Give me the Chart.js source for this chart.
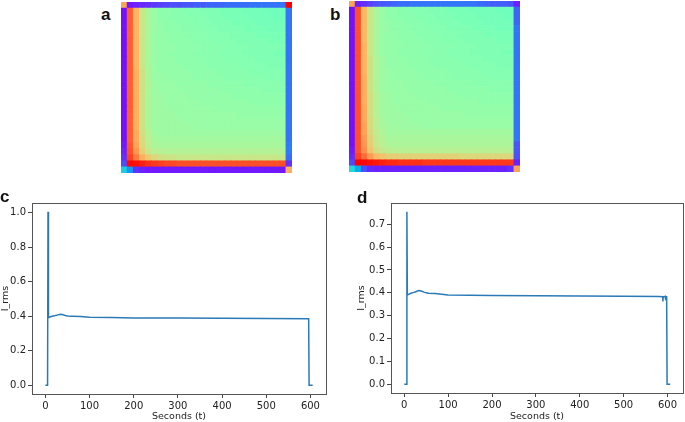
<!DOCTYPE html>
<html>
<head>
<meta charset="utf-8">
<script src="https://cdn.jsdelivr.net/npm/chart.js@4.4.0/dist/chart.umd.min.js"></script>
<style>
body { margin: 0; background: #fff; }
#wrap { position: relative; width: 685px; height: 422px; overflow: hidden; }
canvas { position: absolute; }
.tag { position: absolute; font: bold 17px "Liberation Sans", Arial, sans-serif; line-height: 17px; color: #111; }
</style>
</head>
<body>
<div id="wrap">
  <canvas id="heatA" width="171" height="171" style="left:121px;top:2px"></canvas>
  <canvas id="heatB" width="171" height="171" style="left:349px;top:1px"></canvas>
  <canvas id="lineC" width="340" height="232" style="left:0px;top:190px"></canvas>
  <canvas id="lineD" width="340" height="232" style="left:345px;top:190px"></canvas>
  <div class="tag" style="left:101px;top:6px">a</div>
  <div class="tag" style="left:330px;top:6px">b</div>
  <div class="tag" style="left:0px;top:188px">c</div>
  <div class="tag" style="left:357px;top:189px">d</div>
</div>
<script>
// heatmap cells, 28 x 28, values in percent of the colour scale (row 0 = top)
var heatA = [
  [78, 3, 4, 5, 6, 7, 8, 9,10,10,11,11,12,12,13,13,13,14,14,14,14,15,15,15,15,15,15,100],
  [2,88,75,64,58,55,53,53,52,52,51,51,51,50,50,50,49,49,49,49,48,48,48,48,47,47,47,15],
  [2,88,75,64,58,55,53,53,52,52,52,51,51,51,50,50,50,49,49,49,49,48,48,48,48,47,47,15],
  [2,88,75,64,58,55,54,53,53,52,52,52,51,51,51,50,50,50,49,49,49,49,48,48,48,48,48,15],
  [2,88,75,64,58,55,54,53,53,53,52,52,52,51,51,51,50,50,50,50,49,49,49,49,48,48,48,15],
  [2,88,75,64,58,55,54,54,53,53,53,52,52,52,51,51,51,51,50,50,50,50,49,49,49,49,49,15],
  [2,88,75,64,58,55,54,54,53,53,53,53,52,52,52,51,51,51,51,50,50,50,50,50,49,49,49,15],
  [2,88,75,64,58,55,54,54,54,53,53,53,53,52,52,52,52,51,51,51,51,50,50,50,50,50,50,15],
  [2,88,75,64,58,55,54,54,53,53,53,53,52,52,52,52,51,51,51,51,50,50,50,50,50,49,49,15],
  [2,88,75,64,58,55,54,54,54,53,53,53,53,52,52,52,52,51,51,51,51,51,50,50,50,50,50,15],
  [2,88,75,64,58,55,54,54,54,54,53,53,53,53,52,52,52,52,52,51,51,51,51,51,50,50,50,15],
  [2,88,76,65,59,55,55,54,54,54,54,53,53,53,53,53,52,52,52,52,52,51,51,51,51,51,51,15],
  [2,88,76,65,59,55,55,55,54,54,54,54,53,53,53,53,53,52,52,52,52,52,52,51,51,51,51,15],
  [2,88,76,65,59,56,55,55,55,54,54,54,54,54,53,53,53,53,53,53,52,52,52,52,52,52,52,15],
  [2,88,76,65,59,56,55,55,55,55,54,54,54,54,54,54,53,53,53,53,53,53,53,52,52,52,52,15],
  [2,88,76,65,59,56,56,55,55,55,55,54,54,54,54,54,54,54,53,53,53,53,53,53,53,53,53,15],
  [2,88,76,65,59,56,56,55,55,55,55,55,55,54,54,54,54,54,54,54,54,53,53,53,53,53,53,15],
  [2,88,76,65,59,56,56,56,55,55,55,55,55,55,55,54,54,54,54,54,54,54,54,54,54,54,54,15],
  [2,88,76,65,59,56,56,56,56,55,55,55,55,55,55,55,55,55,55,54,54,54,54,54,54,54,54,15],
  [2,88,76,65,59,56,56,56,56,56,55,55,55,55,55,55,55,55,55,55,55,55,55,55,55,55,55,15],
  [2,88,76,65,59,56,56,56,56,56,56,56,55,55,55,55,55,55,55,55,55,55,55,55,55,55,55,15],
  [2,88,77,66,60,57,56,56,56,56,56,56,56,56,56,56,56,56,56,56,56,56,56,56,56,56,56,15],
  [2,88,77,67,61,58,57,57,57,57,57,57,57,57,57,57,57,57,57,57,57,57,57,57,57,57,57,15],
  [3,89,78,68,62,59,58,58,58,58,58,58,58,58,58,58,58,58,58,58,58,58,58,58,58,58,58,16],
  [4,90,80,70,64,61,61,60,60,60,60,60,60,60,60,60,60,60,60,60,60,60,60,60,60,60,60,16],
  [6,92,84,76,71,68,66,65,65,64,64,64,64,64,64,64,64,64,64,64,64,64,64,64,64,64,64,14],
  [10,99,98,96,94,93,92,91,91,90,90,90,90,90,90,90,90,90,90,90,90,90,90,90,90,90,90,6],
  [30,20,6,4,3,3,3,3,3,3,3,3,3,3,3,3,3,3,3,3,3,3,3,3,3,3,3,76]
];
var heatB = [
  [78, 4, 6, 8,10,11,12,13,14,14,15,15,15,15,15,15,15,15,15,15,15,14,13,12,12,12,11,4],
  [2,90,74,64,58,55,53,53,52,52,51,51,51,50,50,50,49,49,49,49,48,48,48,48,47,47,47,13],
  [2,90,74,64,58,55,53,53,52,52,52,51,51,51,50,50,50,49,49,49,49,48,48,48,48,47,47,13],
  [2,90,74,64,58,55,54,53,53,52,52,52,51,51,51,50,50,50,49,49,49,49,48,48,48,48,48,13],
  [2,90,74,64,58,55,54,53,53,53,52,52,52,51,51,51,50,50,50,50,49,49,49,49,48,48,48,15],
  [2,90,74,64,58,55,54,54,53,53,53,52,52,52,51,51,51,51,50,50,50,50,49,49,49,49,49,15],
  [2,90,74,64,58,55,54,54,53,53,53,53,52,52,52,51,51,51,51,50,50,50,50,50,49,49,49,15],
  [2,90,75,64,58,55,54,54,54,53,53,53,53,52,52,52,52,51,51,51,51,50,50,50,50,50,50,15],
  [2,90,75,64,58,55,54,54,53,53,53,53,52,52,52,52,51,51,51,51,50,50,50,50,50,49,49,15],
  [2,90,75,65,59,56,54,54,54,53,53,53,53,52,52,52,52,51,51,51,51,51,50,50,50,50,50,15],
  [2,90,75,65,59,56,54,54,54,54,53,53,53,53,52,52,52,52,52,51,51,51,51,51,50,50,50,15],
  [2,90,75,65,59,56,55,54,54,54,54,53,53,53,53,53,52,52,52,52,52,51,51,51,51,51,51,15],
  [2,90,76,65,59,56,55,55,54,54,54,54,53,53,53,53,53,52,52,52,52,52,52,51,51,51,51,15],
  [2,90,76,65,59,56,55,55,55,54,54,54,54,54,53,53,53,53,53,53,52,52,52,52,52,52,52,15],
  [2,90,76,65,59,56,55,55,55,55,54,54,54,54,54,54,53,53,53,53,53,53,53,52,52,52,52,15],
  [2,90,76,66,60,57,56,55,55,55,55,54,54,54,54,54,54,54,53,53,53,53,53,53,53,53,53,15],
  [2,90,76,66,60,57,56,55,55,55,55,55,55,54,54,54,54,54,54,54,54,53,53,53,53,53,53,15],
  [2,90,77,66,60,57,56,56,55,55,55,55,55,55,55,54,54,54,54,54,54,54,54,54,54,54,54,15],
  [2,90,77,66,60,57,56,56,56,55,55,55,55,55,55,55,55,55,55,54,54,54,54,54,54,54,54,15],
  [2,90,77,67,61,58,56,56,56,56,55,55,55,55,55,55,55,55,55,55,55,55,55,55,55,55,55,15],
  [2,90,78,67,61,58,57,56,56,56,56,56,55,55,55,55,55,55,55,55,55,55,55,55,55,55,55,15],
  [2,90,78,68,62,59,57,57,57,57,57,57,57,57,57,57,57,57,57,57,57,57,57,57,57,57,57,15],
  [2,90,79,69,63,60,58,58,58,58,58,58,58,58,58,58,58,58,58,58,58,58,58,58,58,58,58,15],
  [2,90,80,70,64,61,59,59,59,59,59,59,59,59,59,59,59,59,59,59,59,59,59,59,59,59,59,11],
  [3,90,81,72,66,63,62,61,61,61,61,61,61,61,61,61,61,61,61,61,61,61,61,61,61,61,61,11],
  [5,92,86,79,74,72,70,70,69,69,69,69,69,69,69,69,69,69,68,68,68,68,68,68,68,68,68,10],
  [9,100,99,98,97,96,95,95,94,94,94,94,93,93,93,93,93,93,93,93,93,93,93,93,93,93,93,4],
  [32,24,10,5,4,4,4,4,4,4,4,4,4,4,4,4,4,4,4,4,4,4,4,4,4,4,6,78]
];
var heatCols = ['0','1','2','3','4','5','6','7','8','9','10','11','12','13','14','15','16','17','18','19','20','21','22','23','24','25','26','27'];

// panel c: I_rms against seconds
var secondsC = [0, 5, 6, 7, 10, 15, 20, 25, 30, 35, 40, 45, 50, 60, 80, 100, 150, 200, 300, 400, 500, 596, 597, 605];
var irmsC = [0, 0, 1.005, 0.392, 0.395, 0.400, 0.402, 0.405, 0.409, 0.411, 0.408, 0.404, 0.401, 0.400, 0.398, 0.394, 0.392, 0.390, 0.389, 0.388, 0.387, 0.385, 0, 0];
// panel d
var secondsD = [0, 5, 6, 7, 10, 15, 20, 25, 30, 34, 40, 45, 50, 55, 70, 100, 150, 200, 300, 400, 500, 580, 589, 589.5, 590, 595, 595.5, 596, 598, 599, 606];
var irmsD = [0, 0, 0.755, 0.390, 0.393, 0.398, 0.401, 0.404, 0.408, 0.410, 0.407, 0.403, 0.400, 0.398, 0.397, 0.391, 0.389, 0.388, 0.387, 0.386, 0.385, 0.384, 0.383, 0.362, 0.383, 0.384, 0.368, 0.384, 0.383, 0, 0];

var tickFont = { family: 'DejaVu Sans', size: 10 };
var titleFont = { family: 'DejaVu Sans', size: 9.5 };

// matplotlib "rainbow" colormap
function rainbow(v) {
	var r = Math.min(1, Math.abs(2 * v - 0.5));
	var g = Math.sin(Math.PI * v);
	var b = Math.cos(Math.PI * v / 2);
	return 'rgb(' + Math.round(r * 255) + ',' + Math.round(g * 255) + ',' + Math.round(b * 255) + ')';
}

function drawHeat(id, grid) {
	var datasets = [];
	// stacked bars: first dataset sits at the bottom, so walk rows upward
	for (var r = grid.length - 1; r >= 0; r--) {
		datasets.push({
			data: grid[r].map(function() { return 1; }),
			backgroundColor: grid[r].map(function(v) { return rainbow(v / 100); }),
			borderWidth: 0,
			barPercentage: 1,
			categoryPercentage: 1
		});
	}
	new Chart(document.getElementById(id), {
		type: 'bar',
		data: { labels: heatCols, datasets: datasets },
		options: {
			responsive: false,
			animation: false,
			events: [],
			layout: { padding: 0 },
			plugins: { legend: { display: false }, tooltip: { enabled: false } },
			scales: {
				x: { display: false, stacked: true },
				y: { display: false, stacked: true, min: 0, max: grid.length }
			}
		}
	});
}

var framePlugin = {
	id: 'frame',
	afterDraw: function(chart) {
		var a = chart.chartArea;
		var ctx = chart.ctx;
		ctx.save();
		ctx.strokeStyle = '#555';
		ctx.lineWidth = 1;
		ctx.strokeRect(Math.round(a.left) + 0.5, Math.round(a.top) + 0.5, Math.round(a.right - a.left), Math.round(a.bottom - a.top));
		ctx.restore();
	}
};

function drawLine(id, secs, vals, o) {
	var pts = secs.map(function(s, i) { return { x: s, y: vals[i] }; });
	new Chart(document.getElementById(id), {
		type: 'line',
		data: {
			datasets: [{
				data: pts,
				borderColor: '#2a7ab8',
				borderWidth: 1.5,
				pointRadius: 0,
				tension: 0,
				fill: false
			}]
		},
		options: {
			responsive: false,
			animation: false,
			events: [],
			layout: { padding: { top: 13, right: o.padRight, left: 0, bottom: 0 } },
			plugins: { legend: { display: false }, tooltip: { enabled: false } },
			scales: {
				x: {
					type: 'linear',
					min: -30.25,
					max: 635.25,
					ticks: { stepSize: 100, includeBounds: false, font: tickFont, color: '#222', padding: 2, maxRotation: 0 },
					grid: { drawOnChartArea: false, tickLength: 4, color: '#444' },
					border: { display: false },
					title: { display: true, text: 'Seconds (t)', font: titleFont, color: '#222', padding: { top: 0, bottom: 0 } },
					afterFit: function(s) { s.height = o.xHeight; }
				},
				y: {
					type: 'linear',
					min: o.yMin,
					max: o.yMax,
					ticks: {
						stepSize: o.yStep,
						includeBounds: false,
						font: tickFont,
						color: '#222',
						padding: 2,
						callback: function(v) { return v.toFixed(1); }
					},
					grid: { drawOnChartArea: false, tickLength: 4, color: '#444' },
					border: { display: false },
					title: { display: true, text: 'I_rms', font: titleFont, color: '#222', padding: { top: o.titlePad, bottom: 0 } },
					afterFit: function(s) { s.width = o.yWidth; }
				}
			}
		},
		plugins: [framePlugin]
	});
}

drawHeat('heatA', heatA);
drawHeat('heatB', heatB);
drawLine('lineC', secondsC, irmsC, { padRight: 14, xHeight: 28, yWidth: 32, yMin: -0.05025, yMax: 1.05525, yStep: 0.2, titlePad: 0 });
drawLine('lineD', secondsD, irmsD, { padRight: 2, xHeight: 29, yWidth: 46, yMin: -0.03775, yMax: 0.79275, yStep: 0.1, titlePad: 11 });
</script>
</body>
</html>
